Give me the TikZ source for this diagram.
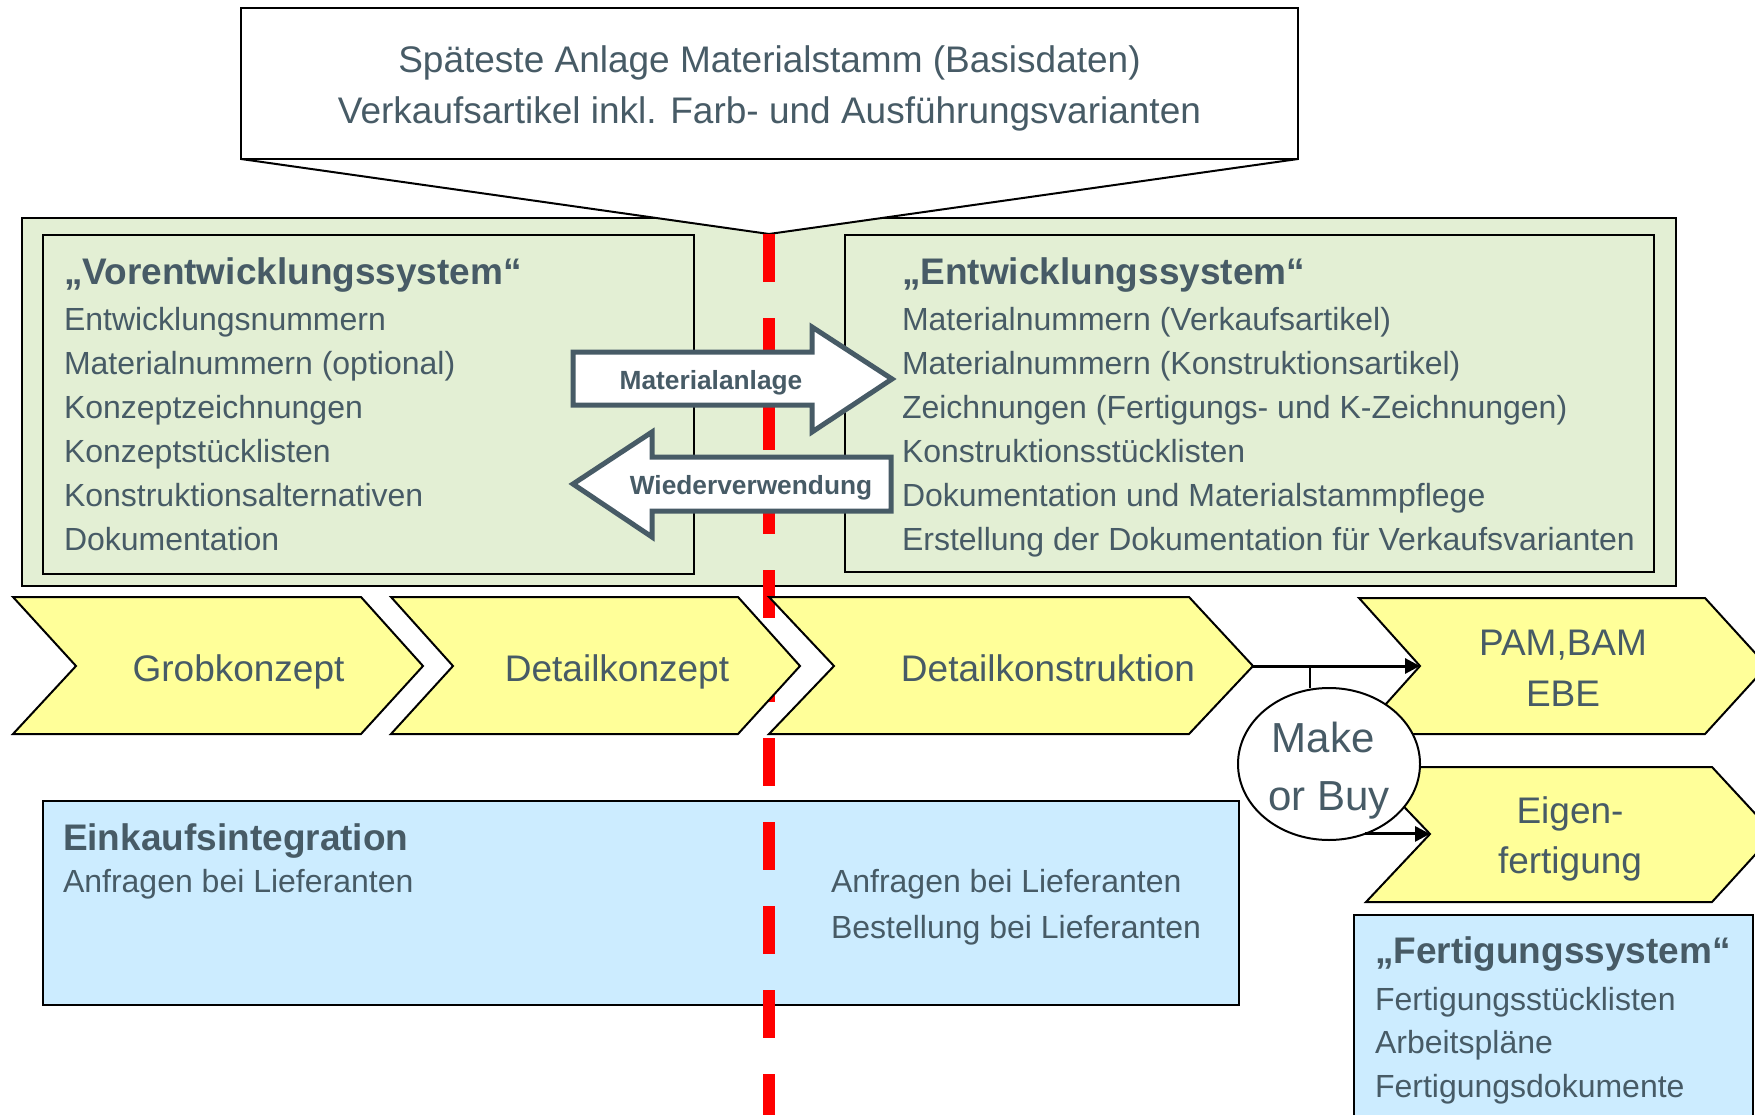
\documentclass[tikz,border=0pt]{standalone}
\usepackage{fontspec}
\setmainfont{Liberation Sans}
\usetikzlibrary{arrows.meta,shapes.geometric}
\definecolor{txt}{RGB}{71,91,102}
\definecolor{grn}{RGB}{227,239,212}
\definecolor{yel}{RGB}{255,255,153}
\definecolor{blu}{RGB}{204,236,255}
\tikzset{
  lst/.style={anchor=base west, inner sep=0pt, outer sep=0pt, text=txt, font=\fontsize{32}{38}\selectfont},
  hdr/.style={anchor=base west, inner sep=0pt, outer sep=0pt, text=txt, font=\bfseries\fontsize{37}{44}\selectfont},
  ctr/.style={anchor=base, inner sep=0pt, outer sep=0pt, text=txt, font=\fontsize{37}{44}\selectfont},
  bigctr/.style={anchor=base, inner sep=0pt, outer sep=0pt, text=txt, font=\fontsize{42}{50}\selectfont},
  arrlabel/.style={anchor=base, inner sep=0pt, outer sep=0pt, text=txt, font=\bfseries\fontsize{26.3}{30}\selectfont},
  boxline/.style={draw=black, line width=2pt},
  chev/.style={fill=yel, draw=black, line width=2pt, line join=miter},
  blockarrow/.style={fill=white, draw=txt, line width=5pt, line join=miter},
  conn/.style={draw=black, line width=3pt, -{Triangle[length=15pt,width=15pt]}},
  reddash/.style={draw=red, line width=12pt, dash pattern=on 48pt off 36pt}
}
\begin{document}
\begin{tikzpicture}[x=1pt,y=-1pt]
\useasboundingbox (0,0) rectangle (1755,1115);
\clip (0,0) rectangle (1755,1115);

% green area with the two systems
\draw[boxline, fill=grn] (22,218) rectangle (1676,586);
\draw[boxline] (43,235) rectangle (694,574);
\draw[boxline] (845,235) rectangle (1654,572);

% callout
\fill[white] (241,159) -- (769,234) -- (1298,159) -- cycle;
\draw[boxline, fill=white] (241,8) rectangle (1298,159);
\draw[boxline, line join=miter] (241,159) -- (769,234) -- (1298,159);

% blue boxes
\draw[boxline, fill=blu] (43,801) rectangle (1239,1005);
\draw[boxline, fill=blu] (1354,915) rectangle (1753,1135);

% red dashed separator
\draw[reddash] (769,234) -- (769,1125);

% chevrons
\draw[chev] (13,597) -- (361,597) -- (423,666) -- (361,734) -- (13,734) -- (76,666) -- cycle;
\draw[chev] (391,597) -- (738,597) -- (800,666) -- (738,734) -- (391,734) -- (453,666) -- cycle;
\draw[chev] (769,597) -- (1189,597) -- (1253,666) -- (1189,734) -- (769,734) -- (834,666) -- cycle;
\draw[chev] (1359,598) -- (1705,598) -- (1767,666) -- (1705,734) -- (1359,734) -- (1420,666) -- cycle;
\draw[chev] (1366,767) -- (1712,767) -- (1774,834) -- (1712,902) -- (1366,902) -- (1430,834) -- cycle;

\coordinate (c3tip) at (1253,666);
\coordinate (c4notch) at (1420,666);
\coordinate (mbj) at (1310,666);
\coordinate (c5notch) at (1430,834);

% make or buy
\node[ellipse, draw=black, line width=2pt, fill=white, minimum width=182pt, minimum height=152pt, inner sep=0pt, outer sep=0pt] (mb) at (1329,764) {};
\draw[conn] (c3tip) -- (c4notch);
\draw[draw=black, line width=2pt] (mbj) -- (mb.north -| mbj);
\draw[conn] (mb.-63) -- (mb.-63 -| c5notch);
\node[bigctr] (mb1) at (1323,752) {Make};
\node[bigctr] (mb2) at (1329,810) {or Buy};

% block arrows
\draw[blockarrow] (573,352) -- (812,352) -- (812,327) -- (892,379) -- (812,432) -- (812,405) -- (573,405) -- cycle;
\draw[blockarrow] (891,457) -- (652,457) -- (652,432) -- (573,484) -- (652,537) -- (652,511) -- (891,511) -- cycle;
\node[arrlabel] (ma) at (711,389) {Materialanlage};
\node[arrlabel] (wv) at (751,494) {Wiederverwendung};

% callout text
\node[ctr] (t1) at (769.5,73) {Späteste Anlage Materialstamm (Basisdaten)};
\node[ctr] (t2) at (769.5,124) {Verkaufsartikel inkl. Farb- und Ausführungsvarianten};

% chevron texts
\node[ctr] (g1) at (238.5,681) {Grobkonzept};
\node[ctr] (g2) at (617,681) {Detailkonzept};
\node[ctr] (g3) at (1048,681) {Detailkonstruktion};
\node[ctr] (g4a) at (1563,655) {PAM,BAM};
\node[ctr] (g4b) at (1563,706) {EBE};
\node[ctr] (g5a) at (1570,823) {Eigen-};
\node[ctr] (g5b) at (1570,873) {fertigung};

% Vorentwicklungssystem
\node[hdr] (v0) at (64,284) {„Vorentwicklungssystem“};
\node[lst] (v1) at (64,330) {Entwicklungsnummern};
\node[lst] (v2) at (64,374) {Materialnummern (optional)};
\node[lst] (v3) at (64,418) {Konzeptzeichnungen};
\node[lst] (v4) at (64,462) {Konzeptstücklisten};
\node[lst] (v5) at (64,506) {Konstruktionsalternativen};
\node[lst] (v6) at (64,550) {Dokumentation};

% Entwicklungssystem
\node[hdr] (e0) at (902,284) {„Entwicklungssystem“};
\node[lst] (e1) at (902,330) {Materialnummern (Verkaufsartikel)};
\node[lst] (e2) at (902,374) {Materialnummern (Konstruktionsartikel)};
\node[lst] (e3) at (902,418) {Zeichnungen (Fertigungs- und K-Zeichnungen)};
\node[lst] (e4) at (902,462) {Konstruktionsstücklisten};
\node[lst] (e5) at (902,506) {Dokumentation und Materialstammpflege};
\node[lst] (e6) at (902,550) {Erstellung der Dokumentation für Verkaufsvarianten};

% Einkaufsintegration
\node[hdr] (k0) at (63,850) {Einkaufsintegration};
\node[lst] (k1) at (63,892) {Anfragen bei Lieferanten};
\node[lst] (k2) at (831,892) {Anfragen bei Lieferanten};
\node[lst] (k3) at (831,938) {Bestellung bei Lieferanten};

% Fertigungssystem
\node[hdr] (f0) at (1375,963) {„Fertigungssystem“};
\node[lst] (f1) at (1375,1010) {Fertigungsstücklisten};
\node[lst] (f2) at (1375,1053) {Arbeitspläne};
\node[lst] (f3) at (1375,1097) {Fertigungsdokumente};
\end{tikzpicture}
\end{document}
